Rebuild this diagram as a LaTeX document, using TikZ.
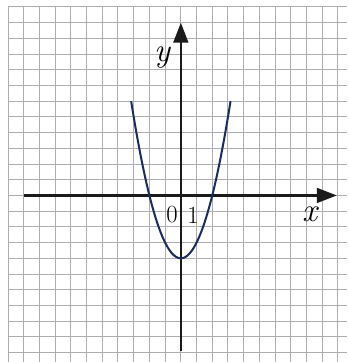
\documentclass[tikz,border=0pt]{standalone}
\usepackage{fontspec}
\usetikzlibrary{arrows.meta}
\definecolor{gridgray}{HTML}{ADADB2}
\definecolor{curvenavy}{HTML}{1C2B5E}
\definecolor{axisblack}{HTML}{1A1A1A}
\tikzset{
  gridline/.style={draw=gridgray, line width=0.75pt},
  axisline/.style={draw=axisblack, line width=1.9pt, -{Triangle[length=15pt,width=11pt]}},
  curveline/.style={draw=curvenavy, line width=1.5pt},
  axlabel/.style={inner sep=0pt, font=\fontsize{25}{28}\selectfont\itshape},
  numlabel/.style={inner sep=0pt, font=\fontsize{18.5}{21}\selectfont},
}
\begin{document}
\begin{tikzpicture}[x=11.78pt, y=11.78pt]
\useasboundingbox (-11.51,-10.60) rectangle (10.58,12.44);
\fill[white] (-11.51,-10.60) rectangle (10.58,12.44);
% grid
\foreach \i in {-11,...,10} { \draw[gridline] (\i,12) -- (\i,-10.60); }
\foreach \j in {-10,...,12} { \draw[gridline] (-11,\j) -- (10.58,\j); }
% axes
\coordinate (xs) at (-10,0);
\coordinate (xe) at (9.93,0);
\coordinate (ys) at (0,-9.9);
\coordinate (ye) at (0,11);
\draw[axisline] (xs) -- (xe);
\draw[axisline] (ys) -- (ye);
% curve
\draw[curveline, domain=-3.1623:3.1623, samples=120, smooth] plot (\x, {\x*\x-4});
% labels
\node[axlabel] (xl) at (8.19,-1.2) {x};
\node[axlabel] (yl) at (-1.2,8.75) {y};
\node[numlabel] (zero) at (-0.56,-1.24) {0};
\node[numlabel] (one) at (0.78,-1.24) {1};
\end{tikzpicture}
\end{document}
